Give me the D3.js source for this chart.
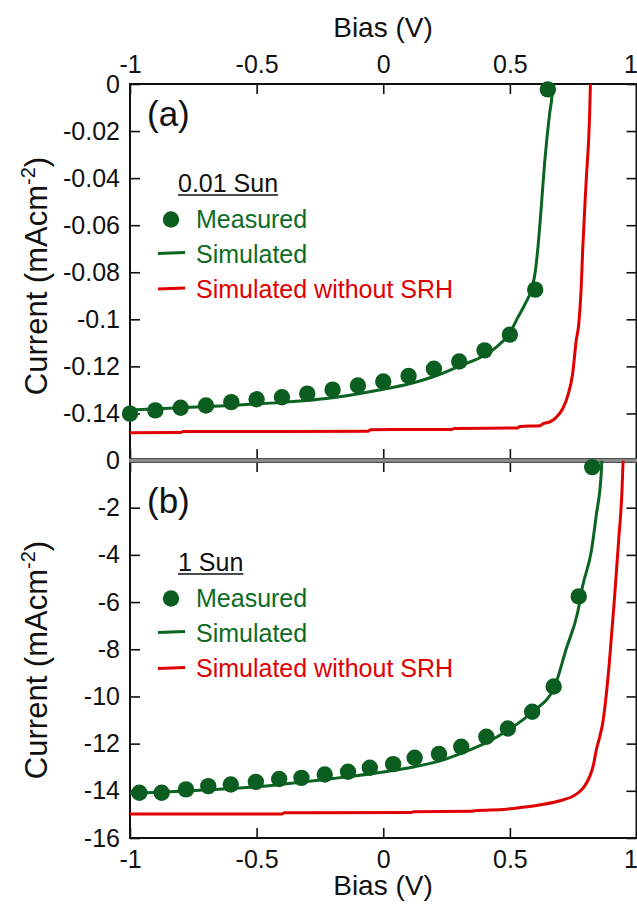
<!DOCTYPE html>
<html>
<head>
<meta charset="utf-8">
<script src="https://cdn.jsdelivr.net/npm/d3@7"></script>
<style>
  html, body { margin: 0; padding: 0; background: #fff; }
  svg { display: block; }
  text { font-family: "Liberation Sans", Arial, sans-serif; }
</style>
</head>
<body>
<svg id="chart" width="637" height="904"></svg>
<script>
// ---- data: panel (a), 0.01 Sun ----
const measuredLowV = [-1, -0.9, -0.8, -0.7, -0.6, -0.5, -0.4, -0.3, -0.2, -0.1, 0, 0.1, 0.2, 0.3, 0.4, 0.5, 0.6, 0.65];
const measuredLowI = [-0.1401, -0.1387, -0.1376, -0.1366, -0.1352, -0.1340, -0.1331, -0.1316, -0.1299, -0.1281,
                      -0.1264, -0.1241, -0.1210, -0.1179, -0.1132, -0.1065, -0.0874, -0.0023];
const simLowV = [-1, -0.8, -0.6, -0.4, -0.2, 0, 0.1, 0.2, 0.3, 0.4, 0.45, 0.5, 0.53, 0.56, 0.585, 0.6, 0.611, 0.62, 0.637, 0.657, 0.667, 0.669];
const simLowI = [-0.1385, -0.1376, -0.1366, -0.1353, -0.1333, -0.1297, -0.1275, -0.1243, -0.1199, -0.1153, -0.1115,
                 -0.1058, -0.0995, -0.0935, -0.0874, -0.0800, -0.0692, -0.0579, -0.0337, -0.0125, -0.0040, 0];
const noSrhLowV = [-1, -0.8, -0.79, -0.06, -0.05, 0.27, 0.28, 0.53, 0.54, 0.62, 0.63, 0.66, 0.68, 0.709, 0.73, 0.748,
                   0.762, 0.772, 0.781, 0.788, 0.8015, 0.815, 0.818];
const noSrhLowI = [-0.1482, -0.1481, -0.1477, -0.1476, -0.1469, -0.1468, -0.1464, -0.1462, -0.1455, -0.1452, -0.1444,
                   -0.1435, -0.1420, -0.1379, -0.1320, -0.1230, -0.1090, -0.1020, -0.0880, -0.0692, -0.0408, -0.0125, 0];

// ---- data: panel (b), 1 Sun ----
const measuredSunV = [-0.963, -0.875, -0.779, -0.691, -0.602, -0.503, -0.411, -0.323, -0.231, -0.139, -0.053,
                      0.039, 0.124, 0.220, 0.308, 0.407, 0.492, 0.588, 0.673, 0.772, 0.825];
const measuredSunI = [-14.08, -14.08, -13.94, -13.80, -13.73, -13.62, -13.50, -13.45, -13.31, -13.19, -13.02,
                      -12.87, -12.60, -12.44, -12.13, -11.71, -11.36, -10.65, -9.58, -5.76, -0.28];
const simSunV = [-1, -0.8, -0.5, -0.2, 0, 0.124, 0.22, 0.308, 0.407, 0.492, 0.59, 0.676, 0.722, 0.768, 0.788,
                 0.821, 0.841, 0.861, 0.863];
const simSunI = [-14.11, -14.02, -13.83, -13.48, -13.20, -12.98, -12.74, -12.41, -11.96, -11.43, -10.65, -9.60,
                 -8.00, -6.42, -5.29, -3.88, -2.33, -0.49, 0];
const noSrhSunV = [-1, -0.4, -0.39, 0.11, 0.12, 0.35, 0.36, 0.486, 0.55, 0.617, 0.709, 0.745, 0.775, 0.795, 0.815,
                   0.83, 0.841, 0.855, 0.867, 0.88, 0.893, 0.913, 0.930, 0.943, 0.947];
const noSrhSunI = [-14.98, -14.98, -14.93, -14.92, -14.89, -14.87, -14.84, -14.78, -14.70, -14.60, -14.39, -14.25,
                   -14.04, -13.80, -13.40, -12.90, -12.28, -11.70, -11.10, -10.00, -8.54, -5.85, -3.31, -1.20, 0];

// ---- ticks and labels ----
const biasTicks = [-1, -0.5, 0, 0.5, 1];
const lowTicks = [0, -0.02, -0.04, -0.06, -0.08, -0.1, -0.12, -0.14];
const lowTicksAll = [0, -0.02, -0.04, -0.06, -0.08, -0.1, -0.12, -0.14, -0.16];
const sunTicks = [0, -2, -4, -6, -8, -10, -12, -14, -16];
const legendLow = ["0.01 Sun", "Measured", "Simulated", "Simulated without SRH"];
const legendSun = ["1 Sun", "Measured", "Simulated", "Simulated without SRH"];

const GREEN_PT = "#0b5e1f";
const GREEN_LN = "#0b6422";
const GREEN_TX = "#0e6b24";
const RED = "#e00000";

const svg = d3.select("#chart");
const plotL = 130, plotR = 636.5, plotT = 84, plotM = 460.5, plotB = 838;

const x = d3.scaleLinear().domain([-1, 1]).range([plotL, plotR]);
const yA = d3.scaleLinear().domain([-0.16, 0]).range([plotM, plotT]);
const yB = d3.scaleLinear().domain([-16, 0]).range([plotB, plotM]);

const fmt = v => String(v);
const zip = (a, b) => a.map((v, i) => [v, b[i]]);

function styleAxis(g) {
  g.select(".domain").remove();
  g.selectAll(".tick line").attr("stroke", "#111").attr("stroke-width", 1.6);
  g.selectAll(".tick text").attr("font-family", "Liberation Sans, Arial, sans-serif")
    .attr("font-size", 25).attr("fill", "#111");
  // the last bias label sits on the page edge; keep it inside
  g.selectAll(".tick").filter(d => d === 1).select("text").attr("text-anchor", "end").attr("x", 1);
}

// panel clip regions
const defs = svg.append("defs");
defs.append("clipPath").attr("id", "clipA").append("rect")
  .attr("x", plotL - 2).attr("y", plotT - 12).attr("width", plotR - plotL + 4).attr("height", plotM - plotT + 12);
defs.append("clipPath").attr("id", "clipB").append("rect")
  .attr("x", plotL - 2).attr("y", plotM).attr("width", plotR - plotL + 4).attr("height", plotB - plotM);

// ---- axes ----
// top of panel (a), labelled
svg.append("g").attr("transform", `translate(0,${plotT})`)
  .call(d3.axisTop(x).tickValues(biasTicks).tickFormat(fmt).tickSizeInner(-10).tickSizeOuter(0).tickPadding(11))
  .call(styleAxis);
// bottom of panel (a)
svg.append("g").attr("transform", `translate(0,${plotM - 1.5})`)
  .call(d3.axisBottom(x).tickValues(biasTicks).tickFormat("").tickSizeInner(-10).tickSizeOuter(0))
  .call(styleAxis);
// top of panel (b)
svg.append("g").attr("transform", `translate(0,${plotM + 1.5})`)
  .call(d3.axisTop(x).tickValues(biasTicks).tickFormat("").tickSizeInner(-10).tickSizeOuter(0))
  .call(styleAxis);
// bottom of panel (b), labelled
svg.append("g").attr("transform", `translate(0,${plotB})`)
  .call(d3.axisBottom(x).tickValues(biasTicks).tickFormat(fmt).tickSizeInner(-10).tickSizeOuter(0).tickPadding(12))
  .call(styleAxis);

// left axes
svg.append("g").attr("transform", `translate(${plotL},0)`)
  .call(d3.axisLeft(yA).tickValues(lowTicks).tickFormat(fmt).tickSizeInner(-10).tickSizeOuter(0).tickPadding(10))
  .call(styleAxis);
svg.append("g").attr("transform", `translate(${plotL},0)`)
  .call(d3.axisLeft(yB).tickValues(sunTicks).tickFormat(fmt).tickSizeInner(-10).tickSizeOuter(0).tickPadding(10))
  .call(styleAxis);
// right axes, ticks only
svg.append("g").attr("transform", `translate(${plotR},0)`)
  .call(d3.axisRight(yA).tickValues(lowTicksAll).tickFormat("").tickSizeInner(-10).tickSizeOuter(0))
  .call(styleAxis);
svg.append("g").attr("transform", `translate(${plotR},0)`)
  .call(d3.axisRight(yB).tickValues(sunTicks).tickFormat("").tickSizeInner(-10).tickSizeOuter(0))
  .call(styleAxis);

// frame lines
const frame = svg.append("g").attr("stroke", "#111").attr("fill", "none");
frame.append("line").attr("x1", plotL).attr("x2", plotL).attr("y1", plotT).attr("y2", plotB).attr("stroke-width", 2);
frame.append("line").attr("x1", plotR).attr("x2", plotR).attr("y1", plotT).attr("y2", plotB).attr("stroke-width", 2);
frame.append("line").attr("x1", plotL - 1).attr("x2", plotR + 1).attr("y1", plotT).attr("y2", plotT).attr("stroke-width", 2);
frame.append("line").attr("x1", plotL - 1).attr("x2", plotR + 1).attr("y1", plotB).attr("y2", plotB).attr("stroke-width", 2);
// shared boundary between the two panels
svg.append("rect").attr("x", plotL - 1).attr("y", plotM - 2).attr("width", plotR - plotL + 2).attr("height", 4)
  .attr("fill", "#8a8a8a");
frame.append("line").attr("x1", plotL - 1).attr("x2", plotR + 1).attr("y1", plotM - 2).attr("y2", plotM - 2).attr("stroke-width", 1.2);
frame.append("line").attr("x1", plotL - 1).attr("x2", plotR + 1).attr("y1", plotM + 2).attr("y2", plotM + 2).attr("stroke-width", 1.2);

// ---- axis titles ----
svg.append("text").attr("x", 383).attr("y", 37).attr("text-anchor", "middle")
  .attr("font-size", 28).attr("fill", "#111").text("Bias (V)");
svg.append("text").attr("x", 383).attr("y", 895).attr("text-anchor", "middle")
  .attr("font-size", 28).attr("fill", "#111").text("Bias (V)");

function yTitle(cy) {
  const t = svg.append("text").attr("transform", `translate(47,${cy}) rotate(-90)`)
    .attr("text-anchor", "middle").attr("font-size", 31).attr("fill", "#111");
  t.append("tspan").text("Current (mAcm");
  t.append("tspan").attr("font-size", 20).attr("dy", -12).text("-2");
  t.append("tspan").attr("dy", 12).text(")");
}
yTitle(276);
yTitle(660);

// ---- data marks ----
function drawPanel(clipId, y, simV, simI, nosV, nosI, measV, measI) {
  const g = svg.append("g").attr("clip-path", `url(#${clipId})`);
  const line = d3.line().curve(d3.curveMonotoneX).x(d => x(d[0])).y(d => y(d[1]));
  g.append("path").datum(zip(nosV, nosI)).attr("d", line)
    .attr("fill", "none").attr("stroke", RED).attr("stroke-width", 3).attr("stroke-linejoin", "round");
  g.append("path").datum(zip(simV, simI)).attr("d", line)
    .attr("fill", "none").attr("stroke", GREEN_LN).attr("stroke-width", 3).attr("stroke-linejoin", "round");
  svg.append("g").selectAll("circle").data(zip(measV, measI)).join("circle")
    .attr("cx", d => x(d[0])).attr("cy", d => y(d[1])).attr("r", 8.2).attr("fill", GREEN_PT);
}
drawPanel("clipA", yA, simLowV, simLowI, noSrhLowV, noSrhLowI, measuredLowV, measuredLowI);
drawPanel("clipB", yB, simSunV, simSunI, noSrhSunV, noSrhSunI, measuredSunV, measuredSunI);

// ---- panel letters ----
svg.append("text").attr("x", 147).attr("y", 125.5).attr("font-family", "Lato, 'Open Sans', sans-serif")
  .attr("font-size", 35).attr("fill", "#111").text("(a)");
svg.append("text").attr("x", 147).attr("y", 513).attr("font-family", "Lato, 'Open Sans', sans-serif")
  .attr("font-size", 35).attr("fill", "#111").text("(b)");

// ---- legends ----
function legend(labels, base) {
  const g = svg.append("g");
  const head = g.append("text").attr("x", 178).attr("y", base[0]).attr("font-size", 25).attr("fill", "#111")
    .text(labels[0]);
  const w = head.node().getComputedTextLength();
  g.append("line").attr("x1", 178).attr("x2", 178 + w).attr("y1", base[0] + 3).attr("y2", base[0] + 3)
    .attr("stroke", "#111").attr("stroke-width", 1.5);
  g.append("circle").attr("cx", 171).attr("cy", base[1] - 8.5).attr("r", 8.2).attr("fill", GREEN_PT);
  g.append("text").attr("x", 196).attr("y", base[1]).attr("font-size", 25).attr("fill", GREEN_TX).text(labels[1]);
  g.append("line").attr("x1", 158).attr("x2", 185).attr("y1", base[2] - 9.5).attr("y2", base[2] - 10.5)
    .attr("stroke", GREEN_LN).attr("stroke-width", 3);
  g.append("text").attr("x", 196).attr("y", base[2]).attr("font-size", 25).attr("fill", GREEN_TX).text(labels[2]);
  g.append("line").attr("x1", 158).attr("x2", 185).attr("y1", base[3] - 8.5).attr("y2", base[3] - 9.5)
    .attr("stroke", RED).attr("stroke-width", 3);
  g.append("text").attr("x", 196).attr("y", base[3]).attr("font-size", 25).attr("fill", RED).text(labels[3]);
}
legend(legendLow, [192, 228, 263, 297.5]);
legend(legendSun, [571, 607, 642, 677]);
</script>
</body>
</html>
